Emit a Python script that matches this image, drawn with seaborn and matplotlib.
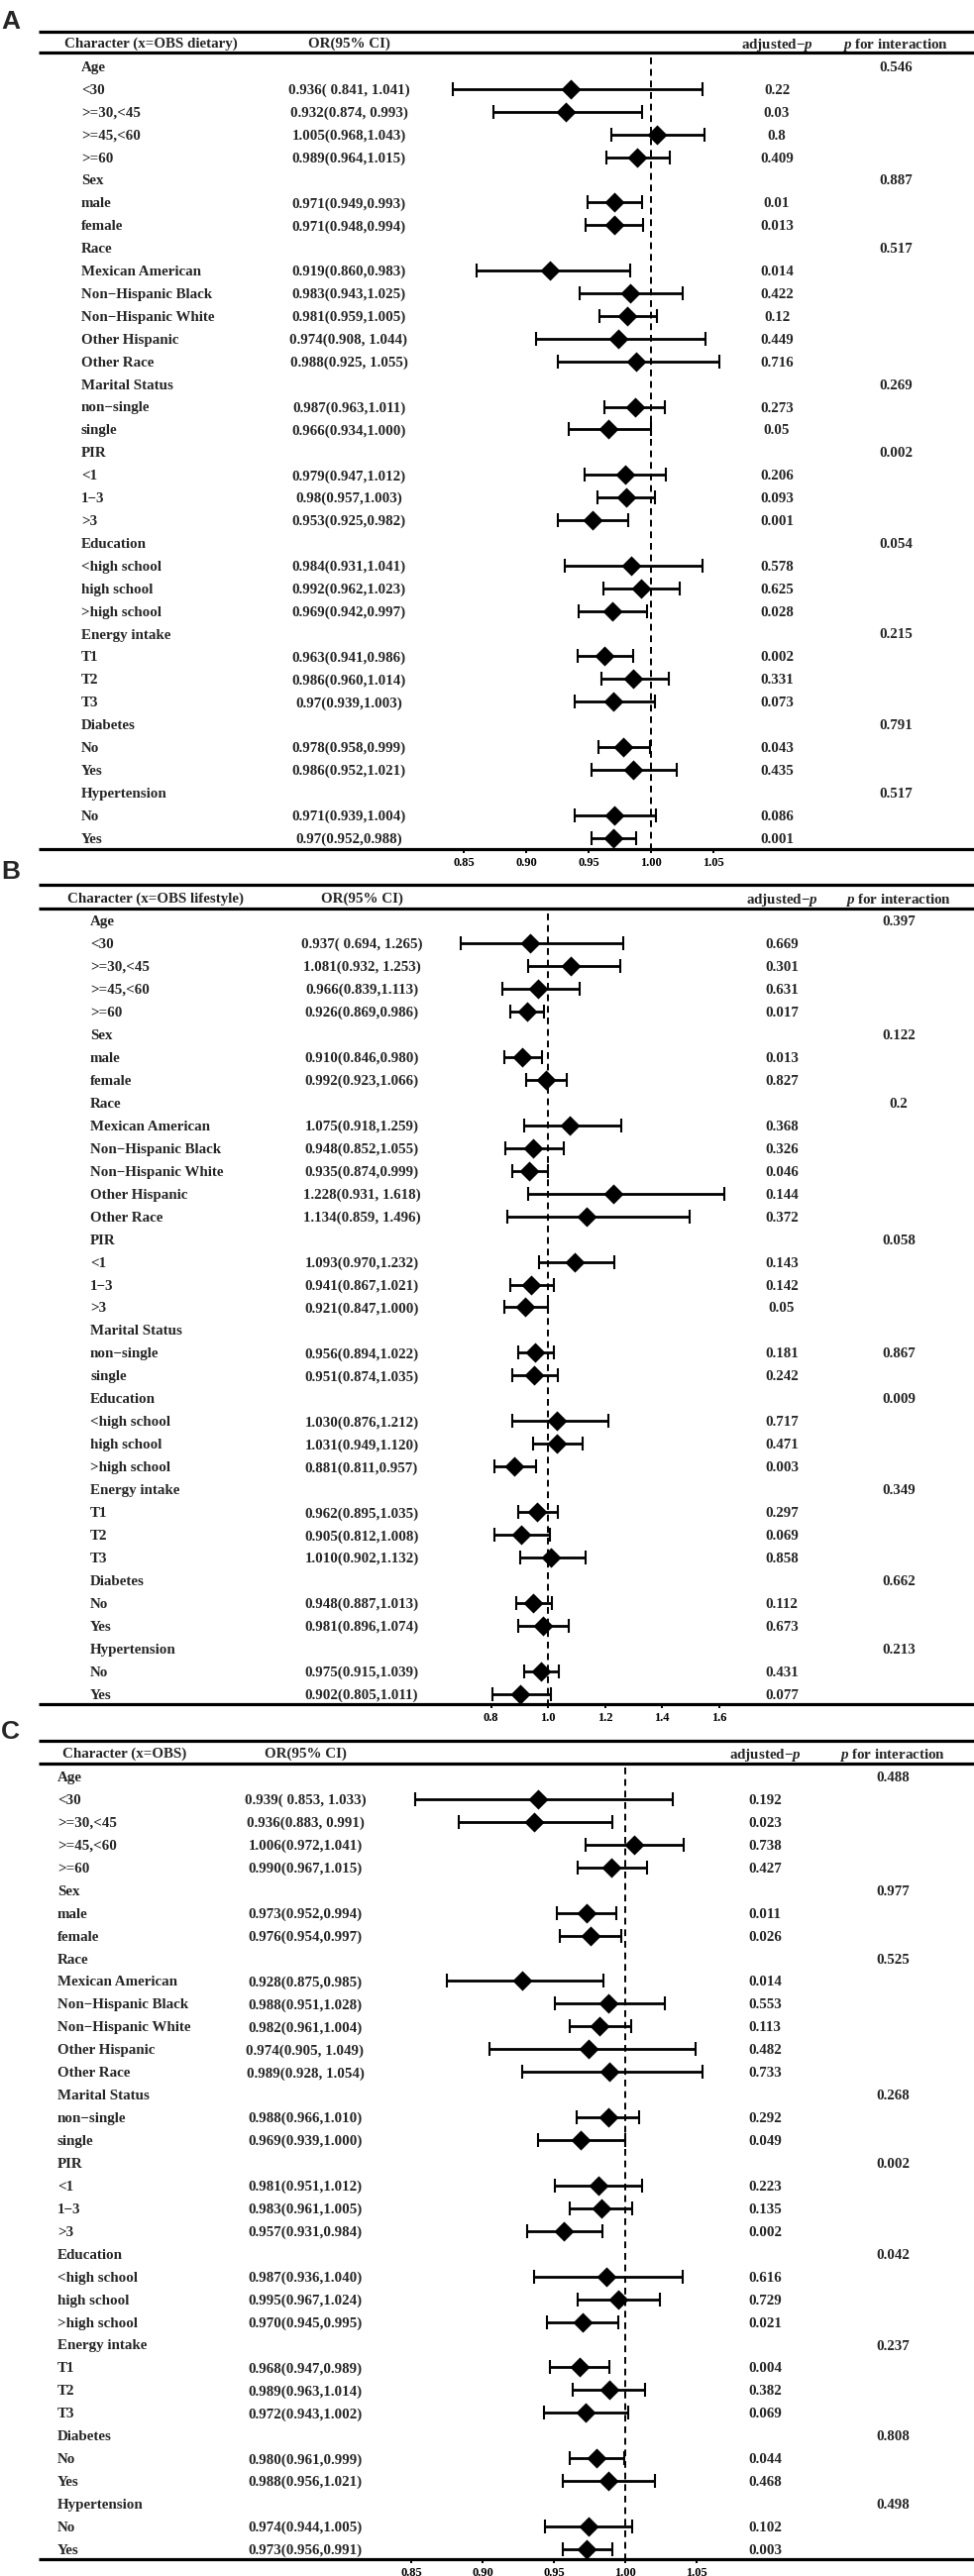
import numpy as np
import pandas as pd
import matplotlib
matplotlib.use("Agg")
import matplotlib.pyplot as plt
import matplotlib.transforms as mtransforms
import seaborn as sns

# ===============================
# Style
# ===============================

sns.set_theme(style="white")
plt.rcParams["font.family"] = ["Liberation Serif", "DejaVu Serif"]
plt.rcParams["font.weight"] = "bold"
plt.rcParams["mathtext.fontset"] = "custom"
plt.rcParams["mathtext.it"] = "Liberation Serif:italic:bold"
plt.rcParams["mathtext.rm"] = "Liberation Serif:bold"

# ===============================
# Data
# ===============================

groups = ["Age", "Sex", "Race", "Marital Status", "PIR", "Education",
          "Energy intake", "Diabetes", "Hypertension"]
groups_B = ["Age", "Sex", "Race", "PIR", "Marital Status", "Education",
            "Energy intake", "Diabetes", "Hypertension"]

sub_labels = {
    "Age": ["<30", ">=30,<45", ">=45,<60", ">=60"],
    "Sex": ["male", "female"],
    "Race": ["Mexican American", "Non\u2212Hispanic Black", "Non\u2212Hispanic White",
             "Other Hispanic", "Other Race"],
    "Marital Status": ["non\u2212single", "single"],
    "PIR": ["<1", "1\u22123", ">3"],
    "Education": ["<high school", "high school", ">high school"],
    "Energy intake": ["T1", "T2", "T3"],
    "Diabetes": ["No", "Yes"],
    "Hypertension": ["No", "Yes"],
}

# Panel A : OBS dietary
or_A = [0.936, 0.932, 1.005, 0.989, 0.971, 0.971, 0.919, 0.983, 0.981, 0.974, 0.988,
        0.987, 0.966, 0.979, 0.98, 0.953, 0.984, 0.992, 0.969, 0.963, 0.986, 0.97,
        0.978, 0.986, 0.971, 0.97]
lo_A = [0.841, 0.874, 0.968, 0.964, 0.949, 0.948, 0.860, 0.943, 0.959, 0.908, 0.925,
        0.963, 0.934, 0.947, 0.957, 0.925, 0.931, 0.962, 0.942, 0.941, 0.960, 0.939,
        0.958, 0.952, 0.939, 0.952]
hi_A = [1.041, 0.993, 1.043, 1.015, 0.993, 0.994, 0.983, 1.025, 1.005, 1.044, 1.055,
        1.011, 1.000, 1.012, 1.003, 0.982, 1.041, 1.023, 0.997, 0.986, 1.014, 1.003,
        0.999, 1.021, 1.004, 0.988]
ci_A = ["0.936( 0.841, 1.041)", "0.932(0.874, 0.993)", "1.005(0.968,1.043)",
        "0.989(0.964,1.015)", "0.971(0.949,0.993)", "0.971(0.948,0.994)",
        "0.919(0.860,0.983)", "0.983(0.943,1.025)", "0.981(0.959,1.005)",
        "0.974(0.908, 1.044)", "0.988(0.925, 1.055)", "0.987(0.963,1.011)",
        "0.966(0.934,1.000)", "0.979(0.947,1.012)", "0.98(0.957,1.003)",
        "0.953(0.925,0.982)", "0.984(0.931,1.041)", "0.992(0.962,1.023)",
        "0.969(0.942,0.997)", "0.963(0.941,0.986)", "0.986(0.960,1.014)",
        "0.97(0.939,1.003)", "0.978(0.958,0.999)", "0.986(0.952,1.021)",
        "0.971(0.939,1.004)", "0.97(0.952,0.988)"]
adjp_A = ["0.22", "0.03", "0.8", "0.409", "0.01", "0.013", "0.014", "0.422", "0.12",
          "0.449", "0.716", "0.273", "0.05", "0.206", "0.093", "0.001", "0.578",
          "0.625", "0.028", "0.002", "0.331", "0.073", "0.043", "0.435", "0.086",
          "0.001"]
pint_A = ["0.546", "0.887", "0.517", "0.269", "0.002", "0.054", "0.215", "0.791", "0.517"]

# Panel B : OBS lifestyle
or_B = [0.937, 1.081, 0.966, 0.926, 0.910, 0.992, 1.075, 0.948, 0.935, 1.228, 1.134,
        1.093, 0.941, 0.921, 0.956, 0.951, 1.030, 1.031, 0.881, 0.962, 0.905, 1.010,
        0.948, 0.981, 0.975, 0.902]
lo_B = [0.694, 0.932, 0.839, 0.869, 0.846, 0.923, 0.918, 0.852, 0.874, 0.931, 0.859,
        0.970, 0.867, 0.847, 0.894, 0.874, 0.876, 0.949, 0.811, 0.895, 0.812, 0.902,
        0.887, 0.896, 0.915, 0.805]
hi_B = [1.265, 1.253, 1.113, 0.986, 0.980, 1.066, 1.259, 1.055, 0.999, 1.618, 1.496,
        1.232, 1.021, 1.000, 1.022, 1.035, 1.212, 1.120, 0.957, 1.035, 1.008, 1.132,
        1.013, 1.074, 1.039, 1.011]
ci_B = ["0.937( 0.694, 1.265)", "1.081(0.932, 1.253)", "0.966(0.839,1.113)",
        "0.926(0.869,0.986)", "0.910(0.846,0.980)", "0.992(0.923,1.066)",
        "1.075(0.918,1.259)", "0.948(0.852,1.055)", "0.935(0.874,0.999)",
        "1.228(0.931, 1.618)", "1.134(0.859, 1.496)", "1.093(0.970,1.232)",
        "0.941(0.867,1.021)", "0.921(0.847,1.000)", "0.956(0.894,1.022)",
        "0.951(0.874,1.035)", "1.030(0.876,1.212)", "1.031(0.949,1.120)",
        "0.881(0.811,0.957)", "0.962(0.895,1.035)", "0.905(0.812,1.008)",
        "1.010(0.902,1.132)", "0.948(0.887,1.013)", "0.981(0.896,1.074)",
        "0.975(0.915,1.039)", "0.902(0.805,1.011)"]
adjp_B = ["0.669", "0.301", "0.631", "0.017", "0.013", "0.827", "0.368", "0.326",
          "0.046", "0.144", "0.372", "0.143", "0.142", "0.05", "0.181", "0.242",
          "0.717", "0.471", "0.003", "0.297", "0.069", "0.858", "0.112", "0.673",
          "0.431", "0.077"]
pint_B = ["0.397", "0.122", "0.2", "0.058", "0.867", "0.009", "0.349", "0.662", "0.213"]
pint_shift_B = [0, 0, 0, 0, 1, 0, 0, 0, 0]

# Panel C : OBS
or_C = [0.939, 0.936, 1.006, 0.990, 0.973, 0.976, 0.928, 0.988, 0.982, 0.974, 0.989,
        0.988, 0.969, 0.981, 0.983, 0.957, 0.987, 0.995, 0.970, 0.968, 0.989, 0.972,
        0.980, 0.988, 0.974, 0.973]
lo_C = [0.853, 0.883, 0.972, 0.967, 0.952, 0.954, 0.875, 0.951, 0.961, 0.905, 0.928,
        0.966, 0.939, 0.951, 0.961, 0.931, 0.936, 0.967, 0.945, 0.947, 0.963, 0.943,
        0.961, 0.956, 0.944, 0.956]
hi_C = [1.033, 0.991, 1.041, 1.015, 0.994, 0.997, 0.985, 1.028, 1.004, 1.049, 1.054,
        1.010, 1.000, 1.012, 1.005, 0.984, 1.040, 1.024, 0.995, 0.989, 1.014, 1.002,
        0.999, 1.021, 1.005, 0.991]
ci_C = ["0.939( 0.853, 1.033)", "0.936(0.883, 0.991)", "1.006(0.972,1.041)",
        "0.990(0.967,1.015)", "0.973(0.952,0.994)", "0.976(0.954,0.997)",
        "0.928(0.875,0.985)", "0.988(0.951,1.028)", "0.982(0.961,1.004)",
        "0.974(0.905, 1.049)", "0.989(0.928, 1.054)", "0.988(0.966,1.010)",
        "0.969(0.939,1.000)", "0.981(0.951,1.012)", "0.983(0.961,1.005)",
        "0.957(0.931,0.984)", "0.987(0.936,1.040)", "0.995(0.967,1.024)",
        "0.970(0.945,0.995)", "0.968(0.947,0.989)", "0.989(0.963,1.014)",
        "0.972(0.943,1.002)", "0.980(0.961,0.999)", "0.988(0.956,1.021)",
        "0.974(0.944,1.005)", "0.973(0.956,0.991)"]
adjp_C = ["0.192", "0.023", "0.738", "0.427", "0.011", "0.026", "0.014", "0.553",
          "0.113", "0.482", "0.733", "0.292", "0.049", "0.223", "0.135", "0.002",
          "0.616", "0.729", "0.021", "0.004", "0.382", "0.069", "0.044", "0.468",
          "0.102", "0.003"]
pint_C = ["0.488", "0.977", "0.525", "0.268", "0.002", "0.042", "0.237", "0.808", "0.498"]

ticks_AC = [0.85, 0.90, 0.95, 1.00, 1.05]
ticklabels_AC = ["0.85", "0.90", "0.95", "1.00", "1.05"]
ticks_B = [0.8, 1.0, 1.2, 1.4, 1.6]
ticklabels_B = ["0.8", "1.0", "1.2", "1.4", "1.6"]

# ===============================
# Layout (pixels)
# ===============================

W, H = 983, 2600
FS = 10.8

layout_A = dict(letter_y=22, top=32, head=43, line2=53, first=67, step=22.9,
                bottom=857, dash_top=58, one=657, ppu=1260,
                title_x=65, label_x=82, ci_x=352, adj_x=784, pint_x=904)
layout_B = dict(letter_y=880, top=893, head=906, line2=917, first=929, step=22.97,
                bottom=1720, dash_top=922, one=553, ppu=287.5,
                title_x=68, label_x=91, ci_x=365, adj_x=789, pint_x=907)
layout_C = dict(letter_y=1748, top=1757, head=1769, line2=1780, first=1793, step=22.94,
                bottom=2583, dash_top=1784, one=631, ppu=1440,
                title_x=63, label_x=58, ci_x=308, adj_x=772, pint_x=901)

fig = plt.figure(figsize=(W / 100, H / 100), dpi=100)


def build_table(order, ors, los, his, cis, adjps, pints, shifts):
    rows = []
    k = 0
    for gi, g in enumerate(order):
        head_row = len(rows)
        rows.append(dict(label=g, header=True, OR=np.nan, lo=np.nan, hi=np.nan,
                         ci="", adjp="", pint=""))
        for s in sub_labels[g]:
            rows.append(dict(label=s, header=False, OR=ors[k], lo=los[k], hi=his[k],
                             ci=cis[k], adjp=adjps[k], pint=""))
            k += 1
        rows[head_row + shifts[gi]]["pint"] = pints[gi]
    df = pd.DataFrame(rows)
    df["row"] = np.arange(len(df))
    return df


def draw_panel(letter, title, L, df, ticks, ticklabels):
    ax = fig.add_axes([0, 1 - L["bottom"] / H, 1, (L["bottom"] - L["top"]) / H])

    def r(px):
        return (px - L["first"]) / L["step"]

    trans = mtransforms.blended_transform_factory(fig.transFigure, ax.transData)

    sub = df[~df["header"]]

    # confidence intervals
    ax.errorbar(sub["OR"], sub["row"],
                xerr=[sub["OR"] - sub["lo"], sub["hi"] - sub["OR"]],
                fmt="none", ecolor="black", elinewidth=2.0,
                capsize=5, capthick=1.5, zorder=2)

    # point estimates
    sns.scatterplot(data=sub, x="OR", y="row", marker="D", s=105,
                    color="black", edgecolor="black", linewidth=0,
                    ax=ax, legend=False, zorder=3)

    # reference line
    ax.plot([1, 1], [r(L["dash_top"]), r(L["bottom"])], color="black",
            lw=1.4, ls=(0, (3.5, 2.5)), zorder=1)

    ax.set_xlim(1 - L["one"] / L["ppu"], 1 + (W - L["one"]) / L["ppu"])
    ax.set_ylim(r(L["bottom"]), r(L["top"]))
    ax.set_xlabel("")
    ax.set_ylabel("")
    ax.set_yticks([])
    for s in ax.spines.values():
        s.set_visible(False)
    ax.set_xticks(ticks)
    ax.set_xticklabels(ticklabels, fontsize=9, fontweight="bold")
    ax.tick_params(axis="x", bottom=True, length=3, width=1.4, direction="out",
                   pad=2.5, colors="black")

    # table rules
    for y in [L["top"], L["line2"], L["bottom"]]:
        ax.plot([39 / W, 1], [r(y), r(y)], transform=trans, color="black",
                lw=2.3, clip_on=False, solid_capstyle="butt")

    # header
    hy = r(L["head"])
    ax.text(L["title_x"] / W, hy, title, transform=trans, ha="left",
            va="center_baseline", fontsize=FS)
    ax.text(L["ci_x"] / W, hy, "OR(95% CI)", transform=trans, ha="center",
            va="center_baseline", fontsize=FS)
    ax.text(L["adj_x"] / W, hy, "adjusted\u2212$\\mathit{p}$", transform=trans,
            ha="center", va="center_baseline", fontsize=FS)
    ax.text(L["pint_x"] / W, hy, "$\\mathit{p}$ for interaction", transform=trans,
            ha="center", va="center_baseline", fontsize=FS)

    # table body
    for _, row in df.iterrows():
        y = row["row"]
        ax.text(L["label_x"] / W, y, row["label"], transform=trans, ha="left",
                va="center_baseline", fontsize=FS)
        if row["ci"]:
            ax.text(L["ci_x"] / W, y, row["ci"], transform=trans, ha="center",
                    va="center_baseline", fontsize=FS)
            ax.text(L["adj_x"] / W, y, row["adjp"], transform=trans, ha="center",
                    va="center_baseline", fontsize=FS)
        if row["pint"]:
            ax.text(L["pint_x"] / W, y, row["pint"], transform=trans, ha="center",
                    va="center_baseline", fontsize=FS)

    fig.text(0.001, 1 - L["letter_y"] / H, letter, ha="left", va="center",
             fontsize=19, fontweight="bold", family=["Liberation Sans", "DejaVu Sans"])


df_A = build_table(groups, or_A, lo_A, hi_A, ci_A, adjp_A, pint_A, [0] * 9)
df_B = build_table(groups_B, or_B, lo_B, hi_B, ci_B, adjp_B, pint_B, pint_shift_B)
df_C = build_table(groups, or_C, lo_C, hi_C, ci_C, adjp_C, pint_C, [0] * 9)

draw_panel("A", "Character (x=OBS dietary)", layout_A, df_A, ticks_AC, ticklabels_AC)
draw_panel("B", "Character (x=OBS lifestyle)", layout_B, df_B, ticks_B, ticklabels_B)
draw_panel("C", "Character (x=OBS)", layout_C, df_C, ticks_AC, ticklabels_AC)

fig.savefig("out.png", dpi=100)
plt.close()
